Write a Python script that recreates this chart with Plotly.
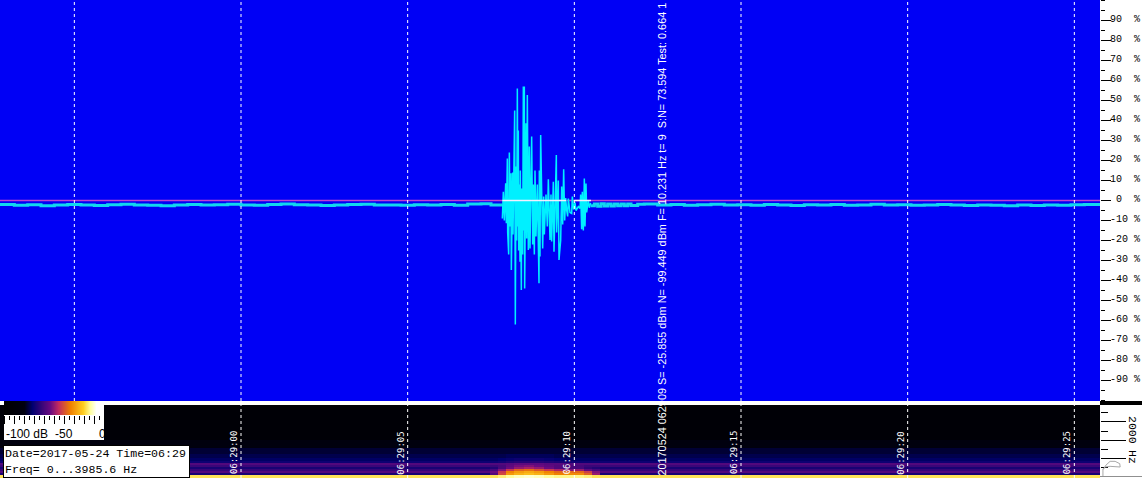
import plotly.graph_objects as go

W, H = 1142, 478

# --- waveform (seconds after 06:29:00, percent of full scale)
base_left_t = [-7.23, -6.8, -6.4, -6.0, -5.6, -5.2, -4.8, -4.4, -4.0, -3.6, -3.2, -2.8, -2.4, -2.0, -1.6, -1.2, -0.8,
               -0.4, 0.0, 0.4, 0.8, 1.2, 1.6, 2.0, 2.4, 2.8, 3.2, 3.6, 4.0, 4.4, 4.8, 5.2, 5.6, 6.0, 6.4, 6.8, 7.2, 7.5, 7.84]
base_left_v = [-2.0, -2.4, -2.1, -2.6, -2.2, -2.0, -2.3, -2.5, -2.1, -1.9, -2.2, -2.4, -2.6, -2.2, -2.0, -2.3, -2.1,
               -1.9, -2.2, -2.4, -2.0, -1.8, -2.1, -2.3, -2.5, -2.2, -2.0, -1.9, -2.3, -2.2, -2.4, -2.1, -2.3, -2.0, -2.4, -1.8, -1.6, -2.2, -2.1]
burst_t = [7.84, 7.87, 7.90, 7.94, 7.96, 7.99, 8.00, 8.03, 8.05, 8.07, 8.10, 8.11, 8.15, 8.16, 8.21, 8.22, 8.23, 8.25, 8.27,
           8.29, 8.31, 8.32, 8.33, 8.35, 8.37, 8.38, 8.41, 8.42, 8.45, 8.47, 8.49, 8.50, 8.51, 8.55, 8.57, 8.59, 8.62, 8.65,
           8.67, 8.72, 8.75, 8.77, 8.80, 8.82, 8.85, 8.89, 8.92, 8.94, 8.95, 8.97, 8.99, 9.02, 9.05, 9.08, 9.10, 9.15, 9.19,
           9.22, 9.27, 9.30, 9.32, 9.37, 9.39, 9.46, 9.47, 9.52, 9.54, 9.59, 9.62, 9.65, 9.68, 9.71, 9.74, 9.77, 9.80, 9.82,
           9.87, 9.92, 9.94, 9.98, 10.02, 10.05, 10.12, 10.17, 10.19, 10.22, 10.24, 10.27, 10.30, 10.32, 10.35, 10.37, 10.42,
           10.45, 10.49]
burst_v = [-9, 4.4, -10, 8.6, -11.4, 21, -16, -27, 24, -13, 13.6, -34.7, 14, -17, 45, -45, -62, 17, -20,
           56, -13, 35, -25, 8, -30.6, 15, -44.7, 6, -27, 57, -15, 57, -44, 38.6, -19, 52.7, -24.7, 27,
           -24, 32, -22, 8, -27, 15, -18, 8, -15, -41.4, 15, -28, 32.7, -10, -24, 2, -17, 3, -13,
           10.6, -19.7, 3, -20.5, 9.4, -25.6, 22.7, -16, 10, -29.7, -20, 7, -12, 15.6, -10, 1.2, -5, -8, 1,
           -6, -6.5, 2, -4.5, -1, -5, -3, -4, 3, -14.4, 4.4, -15, 11, -13, 8.5, -6, 0,
           -3.6, -1.2]
base_right_t = [10.49, 10.6, 10.7, 10.8, 10.9, 11.0, 11.1, 11.2, 11.3, 11.4, 11.5, 11.6, 11.7, 11.9, 12.1, 12.5, 12.9, 13.3, 13.7, 14.1, 14.5, 14.9, 15.3, 15.7, 16.1, 16.5, 16.9, 17.3, 17.7, 18.1, 18.5, 18.9,
                19.3, 19.7, 20.1, 20.5, 20.9, 21.3, 21.7, 22.1, 22.5, 22.9, 23.3, 23.7, 24.1, 24.5, 24.9, 25.3, 25.77]
base_right_v = [-2.6, -1.7, -2.9, -1.6, -2.8, -1.7, -2.7, -1.7, -2.6, -1.8, -2.6, -1.8, -2.5, -1.9, -1.8, -2.3, -2.0, -2.4, -2.1, -1.9, -2.3, -2.1, -2.4, -2.0, -2.2, -2.5, -2.1, -2.3, -2.0, -2.4, -2.2, -1.9,
                -2.3, -2.1, -2.4, -2.2, -2.0, -2.3, -2.5, -2.2, -2.4, -2.6, -2.3, -2.5, -2.2, -2.4, -2.1, -2.0, -2.2]
zero_t = [-7.23, 25.77]
zero_v = [0, 0]
zero_burst_t = [7.84, 9.75, 9.85, 10.0, 10.3, 10.5]
zero_burst_v = [0, 0, None, 0, 0, 0]

# --- spectrogram (Hz row edges, seconds column edges, dB)
freq_edges = [-111, 56, 167, 278, 389, 500, 611, 722, 833, 1000, 1222, 1556, 2000, 3944]
time_edges = [-7.23, 7.47, 7.71, 7.95, 8.19, 8.49, 8.79, 9.09, 9.39, 9.69, 9.99, 10.29, 10.53, 10.77, 25.77]
spec_db = [
    [-18, -18, -16, -14, -12, -11, -12, -14, -15, -15, -15, -16, -18, -18],
    [-68, -58, -42, -30, -26, -24, -26, -30, -34, -32, -32, -38, -50, -68],
    [-58, -54, -44, -33, -29, -27, -29, -33, -37, -37, -37, -43, -52, -58],
    [-63, -60, -52, -44, -38, -36, -40, -44, -48, -52, -50, -56, -60, -63],
    [-68, -66, -60, -54, -50, -48, -50, -54, -58, -60, -60, -64, -66, -68],
    [-62, -62, -60, -56, -53, -52, -54, -56, -58, -60, -60, -62, -62, -62],
    [-58, -58, -58, -57, -56, -56, -56, -57, -57, -58, -58, -58, -58, -58],
    [-70, -70, -69, -67, -66, -66, -66, -67, -68, -69, -70, -70, -70, -70],
    [-73, -73, -72, -71, -70, -70, -70, -71, -72, -73, -73, -73, -73, -73],
    [-75, -75, -75, -74, -74, -74, -74, -74, -75, -75, -75, -75, -75, -75],
    [-77, -77, -77, -77, -77, -77, -77, -77, -77, -77, -77, -77, -77, -77],
    [-82, -82, -82, -82, -82, -82, -82, -82, -82, -82, -82, -82, -82, -82],
    [-92, -92, -92, -92, -92, -92, -92, -92, -92, -92, -92, -92, -92, -92],
]
# mean spectrum sketch in the right-hand margin
mini_db = [-93, -93, -86, -76, -64, -53, -52, -76, -88, -93]
mini_hz = [0, 352, 600, 815, 815, 685, 500, 537, 500, 352]

legend_db = [-100, -90, -80, -72, -62, -54, -46, -40, -34, -27, -21, -14, -7, 0]

pct_ticks = [-90, -80, -70, -60, -50, -40, -30, -20, -10, 0, 10, 20, 30, 40, 50, 60, 70, 80, 90]
pct_labels = ["-90\u00a0%", "-80\u00a0%", "-70\u00a0%", "-60\u00a0%", "-50\u00a0%", "-40\u00a0%", "-30\u00a0%", "-20\u00a0%",
              "-10\u00a0%", "\u00a00\u00a0\u00a0%", "10\u00a0\u00a0%", "20\u00a0\u00a0%", "30\u00a0\u00a0%", "40\u00a0\u00a0%",
              "50\u00a0\u00a0%", "60\u00a0\u00a0%", "70\u00a0\u00a0%", "80\u00a0\u00a0%", "90\u00a0\u00a0%"]
grid_upper_s = [-5, 0, 5, 10, 15, 20, 25]
grid_lower_s = [0, 5, 10, 15, 20, 25]
time_labels = ["06:29:00", "06:29:05", "06:29:10", "06:29:15", "06:29:20", "06:29:25"]
info_text = "20170524 062909 S= -25.855 dBm N= -99.449 dBm F= 10.231 Hz t= 9  S:N= 73.594 Test: 0.664 1"

spec_colors = [[0.0, "#000000"], [0.2, "#000010"], [0.28, "#000070"], [0.46, "#6a0a80"], [0.54, "#c02a60"],
               [0.66, "#f08000"], [0.79, "#ffcf20"], [0.86, "#ffffa0"], [0.92, "#ffffff"], [1.0, "#ffffff"]]
BLUE = "#0000f5"
CYAN = "#00f0ff"
XR = [-7.23, 25.77]
PW = 1100 / W


def px(y):
    return 1 - y / H


def fx(x):
    return x / 1100


def fy(y):
    return (401 - y) / 401


fig = go.Figure()
fig.add_trace(go.Scatter(x=zero_t, y=zero_v, mode="lines", line=dict(color="#c040d0", width=1.5), xaxis="x", yaxis="y"))
fig.add_trace(go.Scatter(x=base_left_t, y=base_left_v, mode="lines", line=dict(color="#10d8f0", width=3, shape="hv"), xaxis="x", yaxis="y"))
fig.add_trace(go.Scatter(x=base_right_t, y=base_right_v, mode="lines", line=dict(color="#10d8f0", width=3, shape="hv"), xaxis="x", yaxis="y"))
fig.add_trace(go.Scatter(x=burst_t, y=burst_v, mode="lines", line=dict(color=CYAN, width=1.5), xaxis="x", yaxis="y"))
fig.add_trace(go.Scatter(x=zero_burst_t, y=zero_burst_v, mode="lines", line=dict(color="#f0f0ff", width=1.5), xaxis="x", yaxis="y"))
fig.add_trace(go.Heatmap(x=time_edges, y=freq_edges, z=spec_db, zmin=-100, zmax=0, colorscale=spec_colors, showscale=False, xaxis="x2", yaxis="y2"))
fig.add_trace(go.Heatmap(x=[-100, 0], y=[0, 1], z=[[1]], colorscale=[[0, "#ffffff"], [1, "#ffffff"]], showscale=False, xaxis="x3", yaxis="y3"))
fig.add_trace(go.Heatmap(x=legend_db, y=[0, 1], z=[legend_db, legend_db], zmin=-100, zmax=0, colorscale=spec_colors, showscale=False, zsmooth="best", xaxis="x4", yaxis="y4"))
fig.add_trace(go.Scatter(x=mini_db, y=mini_hz, mode="lines", line=dict(color="#a8a8a8", width=1), xaxis="x5", yaxis="y2"))

shapes = [dict(type="rect", xref="paper", yref="paper", x0=0, x1=PW, y0=px(401), y1=1, fillcolor=BLUE, line=dict(width=0), layer="below")]
for s in grid_upper_s:
    shapes.append(dict(type="line", xref="x", yref="y domain", x0=s, x1=s, y0=0, y1=1, layer="above", line=dict(color="white", width=1, dash="3px,3px")))
for s in grid_lower_s:
    shapes.append(dict(type="line", xref="x2", yref="y2 domain", x0=s, x1=s, y0=0, y1=1, layer="above", line=dict(color="white", width=1, dash="3px,3px")))
shapes.append(dict(type="rect", xref="paper", yref="paper", x0=PW, x1=1, y0=px(405), y1=px(401), fillcolor="black", line=dict(width=0), layer="above"))
shapes.append(dict(type="line", xref="paper", yref="paper", x0=PW, x1=1, y0=px(476.5), y1=px(476.5), line=dict(color="#909090", width=1), layer="above"))

mono = "Liberation Mono"
XD, YD = "x domain", "y domain"
ann = []
for s, t in zip(grid_lower_s, time_labels):
    ann.append(dict(text=t, xref="x2", yref=YD, x=s, y=fy(475.5), xanchor="right", yanchor="bottom", xshift=-1, textangle=-90,
                    showarrow=False, font=dict(family="DejaVu Sans Mono", size=9, color="white"), borderpad=0))
ann.append(dict(text=info_text, xref=XD, yref=YD, x=fx(661), y=fy(477), xanchor="center", yanchor="bottom", textangle=-90,
                showarrow=False, font=dict(family="Liberation Sans", size=10.85, color="white"), borderpad=0))
ann.append(dict(text="Date=2017-05-24 Time=06:29<br>Freq= 0...3985.6 Hz", xref=XD, yref=YD, x=fx(3), y=fy(445), xanchor="left", yanchor="top",
                align="left", showarrow=False, bgcolor="white", bordercolor="black", borderwidth=1, borderpad=1, width=183, height=29,
                font=dict(family=mono, size=11.6, color="black")))
for txt, x in [("-100 dB", 5), ("-50", 54), ("0", 98)]:
    ann.append(dict(text=txt, xref=XD, yref=YD, x=fx(x), y=fy(434), xanchor="left", yanchor="middle", showarrow=False,
                    font=dict(family="Liberation Sans", size=12, color="black"), borderpad=0))
for txt, y in [("2000", 430), ("Hz", 457)]:
    ann.append(dict(text=txt, xref=XD, yref=YD, x=fx(1133), y=fy(y), xanchor="center", yanchor="middle", textangle=90, showarrow=False,
                    font=dict(family=mono, size=11.5, color="black"), borderpad=0))

hidden = dict(visible=False, fixedrange=True)
fig.update_layout(
    width=W, height=H, margin=dict(l=0, r=0, t=0, b=0), paper_bgcolor="white", plot_bgcolor="rgba(0,0,0,0)", showlegend=False,
    shapes=shapes, annotations=ann,
    xaxis=dict(domain=[0, PW], range=XR, anchor="y", **hidden),
    yaxis=dict(domain=[px(401), 1], range=[-100.25, 100.25], anchor="x", side="right", showgrid=False, zeroline=False,
               tickmode="array", tickvals=pct_ticks, ticktext=pct_labels, ticks="outside", ticklen=10, tickcolor="black", tickwidth=1,
               tickfont=dict(family=mono, size=10, color="black"), ticklabelstandoff=-3, ticklabelshift=-2,
               minor=dict(dtick=5, tick0=0, ticks="outside", ticklen=4, tickcolor="black", tickwidth=1), showline=False),
    xaxis2=dict(domain=[0, PW], range=XR, anchor="y2", **hidden),
    yaxis2=dict(domain=[0, px(405)], range=[-111, 3944], anchor="x2", side="right", showgrid=False, zeroline=False,
                dtick=1000, tick0=0, ticks="outside", ticklen=25, tickcolor="black", tickwidth=1, showticklabels=False,
                minor=dict(dtick=500, tick0=0, ticks="outside", ticklen=7, tickcolor="black", tickwidth=1)),
    xaxis3=dict(domain=[4 / W, 104 / W], range=[-100, 0], anchor="y3", **hidden),
    yaxis3=dict(domain=[px(440), px(401)], range=[0, 1], anchor="x3", **hidden),
    xaxis4=dict(domain=[4 / W, 104 / W], range=[-100, 0], anchor="y4", side="bottom", showgrid=False, zeroline=False,
                dtick=10, tick0=0, ticks="outside", ticklen=8, tickcolor="black", tickwidth=1, showticklabels=False,
                minor=dict(dtick=5, tick0=0, ticks="outside", ticklen=4, tickcolor="black", tickwidth=1)),
    yaxis4=dict(domain=[px(415), px(401)], range=[0, 1], anchor="x4", **hidden),
    xaxis5=dict(domain=[PW, 1], range=[-100, 0], anchor="y2", **hidden),
)
fig.write_html("out.html", config=dict(displayModeBar=False),
               post_script="document.body.style.margin='0';document.documentElement.style.overflow='hidden';")
